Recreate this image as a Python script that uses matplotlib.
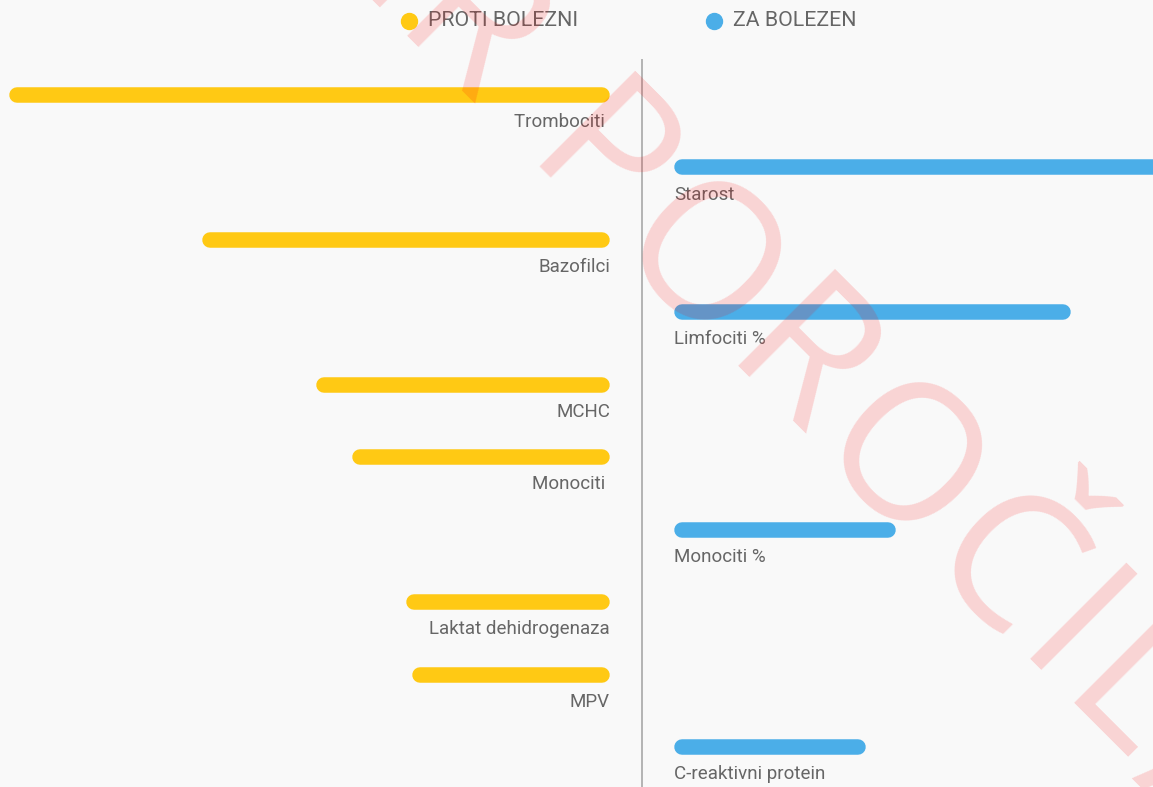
import numpy as np
import matplotlib
matplotlib.use("Agg")
import matplotlib.pyplot as plt
from matplotlib.font_manager import FontProperties
from matplotlib.textpath import TextToPath

# ---------------- data ----------------
features = ['Trombociti ', 'Starost', 'Bazofilci', 'Limfociti %', 'MCHC',
            'Monociti ', 'Monociti %', 'Laktat dehidrogenaza', 'MPV',
            'C-reaktivni protein']
# negative = proti bolezni, positive = za bolezen
contrib = [-6.01, 5.60, -4.08, 3.97, -2.94, -2.58, 2.22, -2.04, -1.98, 1.92]

legend_labels = ['PROTI BOLEZNI', 'ZA BOLEZEN']
watermark_left = 'PRIMER '
watermark_right = 'POROČILA'

# ---------------- style ----------------
W, H, DPI = 1153, 787, 100
BG = '#f9f9f9'
C_PROTI = '#ffc914'
C_ZA = '#4baee8'
TXT = '#666666'
FONT = ['Roboto', 'DejaVu Sans']

plt.rcParams['font.family'] = FONT

fig = plt.figure(figsize=(W / DPI, H / DPI), dpi=DPI, facecolor=BG)
ax = fig.add_axes([0, 0, 1, 1])
ax.set_facecolor(BG)
ax.axis('off')

# 1 value unit = 100 px, centre line at 642 px
px = 100.0
ax.set_xlim(-642 / px, (W - 642) / px)
row_px = 72.44
first_row = 95
ax.set_ylim((H - first_row) / row_px, -first_row / row_px)

gap = 0.32          # space between centre line and bar start
cap = 7.8 / px      # half of bar thickness (round cap)
lw = 15.5 * 72 / DPI

for i, (name, v) in enumerate(zip(features, contrib)):
    s = np.sign(v)
    col = C_ZA if v > 0 else C_PROTI
    ax.plot([s * (gap + cap), s * (gap + abs(v) - cap)], [i, i],
            color=col, lw=lw, solid_capstyle='round', zorder=3)
    ax.text(s * gap, i + 0.375, name, ha='left' if v > 0 else 'right',
            va='center', fontsize=13.5, color=TXT, zorder=4)

# centre line
ax.plot([0, 0], [-35 / row_px, (H - first_row) / row_px], color='#b4b4b4',
        lw=1.4, zorder=2)

# legend at top
for lab, col, xd in zip(legend_labels, [C_PROTI, C_ZA], [409, 714]):
    fig.lines.append(plt.Line2D([xd / W], [1 - 20.5 / H], marker='o',
                                markersize=11.5, color=col, lw=0,
                                transform=fig.transFigure))
    fig.text((xd + 19) / W, 1 - 20.5 / H, lab, ha='left', va='center',
             fontsize=15.4, color=TXT)

# watermark, letter by letter with some tracking, rotated -45 deg
wm_size = 137.5
wm_track = 9.0      # px added after each letter
fp = FontProperties(family=['Open Sans', 'DejaVu Sans'], size=wm_size)
t2p = TextToPath()


def adv(s):
    w, _, _ = t2p.get_text_width_height_descent(s, fp, ismath=False)
    return w * DPI / 72


ox, oy = 519.0, 166.0                     # baseline origin of the "P", px
d = np.array([1.0, 1.0]) / np.sqrt(2)     # down-right along the baseline
full = watermark_left + watermark_right
n_left = len(watermark_left)
for k, ch in enumerate(full):
    if ch == ' ':
        continue
    off = adv(full[:k]) - adv(watermark_left) + (k - n_left) * wm_track
    x, y = ox + d[0] * off, oy + d[1] * off
    fig.text(x / W, 1 - y / H, ch, fontproperties=fp, color=(1, 0, 0, 0.15),
             rotation=-45, rotation_mode='anchor', ha='left', va='baseline',
             zorder=10)

fig.savefig('out.png', dpi=DPI, facecolor=BG)
